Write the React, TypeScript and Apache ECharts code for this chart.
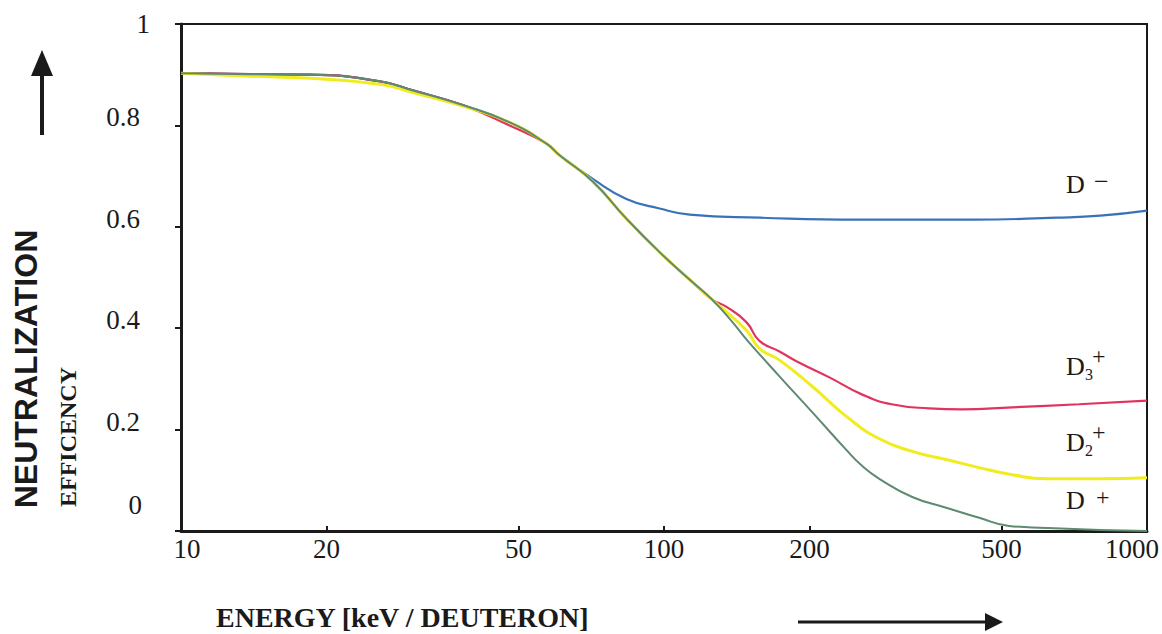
import React, { useEffect, useRef } from 'react';
import * as echarts from 'echarts';

// Energy in keV per deuteron (log axis), efficiency as a fraction.
const dMinusEnergy = [10, 13.9, 18.5, 25.8, 30.2, 38.3, 47.9, 57.1, 60.8, 71.1, 83.6, 97.9, 113, 158, 253, 434, 648, 800, 1000];
const dMinusEff = [0.903, 0.901, 0.9, 0.887, 0.869, 0.84, 0.806, 0.764, 0.741, 0.695, 0.655, 0.636, 0.624, 0.618, 0.614, 0.614, 0.618, 0.622, 0.632];

const d3Energy = [10, 13.9, 18.5, 25.8, 30.2, 38.3, 47.9, 57.1, 60.8, 71.1, 83.6, 97.9, 114.5, 125.6, 134.7, 148.1, 157.6, 173.4, 188, 220, 257.4, 296, 354, 414.5, 525.7, 723, 1000];
const d3Eff = [0.903, 0.901, 0.9, 0.887, 0.869, 0.84, 0.8, 0.764, 0.741, 0.69, 0.616, 0.55, 0.491, 0.457, 0.442, 0.412, 0.375, 0.354, 0.335, 0.303, 0.269, 0.25, 0.242, 0.24, 0.244, 0.25, 0.257];

const d2Energy = [10, 13.9, 18.5, 25.8, 30.2, 38.3, 47.9, 57.1, 60.8, 71.1, 83.6, 97.9, 114.5, 125.6, 148.1, 157.6, 173.4, 202.9, 238.5, 279.1, 326.6, 383.9, 449.3, 525.7, 618.1, 800, 1000];
const d2Eff = [0.903, 0.897, 0.893, 0.881, 0.865, 0.838, 0.806, 0.764, 0.741, 0.69, 0.616, 0.55, 0.491, 0.457, 0.396, 0.36, 0.337, 0.285, 0.226, 0.182, 0.157, 0.141, 0.125, 0.111, 0.103, 0.103, 0.105];

const d1Energy = [10, 13.9, 18.5, 25.8, 30.2, 38.3, 47.9, 57.1, 60.8, 71.1, 83.6, 97.9, 114.5, 125.6, 138.6, 148.1, 173.4, 202.9, 238.5, 257.4, 279.1, 326.6, 383.9, 449.3, 518, 618.1, 800, 1000];
const d1Eff = [0.903, 0.901, 0.9, 0.887, 0.869, 0.84, 0.806, 0.764, 0.741, 0.69, 0.616, 0.55, 0.491, 0.457, 0.412, 0.378, 0.305, 0.234, 0.16, 0.128, 0.103, 0.067, 0.046, 0.026, 0.01, 0.006, 0.002, 0];

const xLabelValues = [10, 20, 50, 100, 200, 500, 1000];
const xTickValues = [20, 50, 100, 200, 500];

const SERIF = '"Liberation Serif", "Times New Roman", serif';
const SANS = '"Liberation Sans", Arial, sans-serif';
const INK = '#1a1a1a';

const pairs = (xs: number[], ys: number[]) => xs.map((x, i) => [x, ys[i]]);

export default function App() {
  const ref = useRef<HTMLDivElement>(null);

  useEffect(() => {
    const chart = echarts.init(ref.current!, null, { renderer: 'svg' });

    const line = (name: string, data: number[][], color: string, width: number) => ({
      name,
      type: 'line',
      data,
      showSymbol: false,
      symbol: 'none',
      smooth: 0.5,
      lineStyle: { color, width },
      z: 3,
    });

    const txt = (text: string, x: number, y: number, size: number) => ({
      type: 'text',
      x,
      y,
      style: {
        text,
        font: `${size}px ${SERIF}`,
        fill: INK,
        align: 'left',
        verticalAlign: 'middle',
      },
    });

    const labelFont = { fontSize: 27, fontFamily: SERIF, color: INK };

    chart.setOption({
      animation: false,
      backgroundColor: '#ffffff',
      grid: {
        left: 181,
        right: 14,
        top: 24,
        bottom: 103,
        show: true,
        borderColor: INK,
        borderWidth: 2,
      },
      xAxis: {
        type: 'log',
        logBase: 10,
        min: 10,
        max: 1000,
        axisLine: { show: true, lineStyle: { color: INK, width: 3 } },
        axisTick: {
          show: true,
          inside: true,
          length: 5,
          customValues: xTickValues,
          lineStyle: { color: INK, width: 2 },
        },
        minorTick: { show: false },
        splitLine: { show: false },
        axisLabel: {
          customValues: xLabelValues,
          margin: 4,
          ...labelFont,
          formatter: (v: number) => {
            const s = String(Math.round(v));
            if (s === '10') return `{first|${s}}`;
            if (s === '1000') return `{last|${s}}`;
            return `{n|${s}}`;
          },
          rich: {
            n: { ...labelFont },
            first: { ...labelFont, padding: [0, 0, 0, 12] },
            last: { ...labelFont, padding: [0, 30, 0, 0] },
          },
        },
      },
      yAxis: {
        type: 'value',
        min: 0,
        max: 1,
        interval: 0.2,
        axisLine: { show: true, lineStyle: { color: INK, width: 3 } },
        axisTick: { show: true, inside: false, length: 6, lineStyle: { color: INK, width: 2 } },
        splitLine: { show: false },
        axisLabel: {
          margin: 31,
          ...labelFont,
          formatter: (v: number) => {
            const r = Math.round(v * 10) / 10;
            if (r === 1) return '{one|1}';
            if (r === 0) return '{zero|0}';
            return `{n|${r}}`;
          },
          rich: {
            n: { ...labelFont, padding: [0, 10, 16, 0] },
            one: { ...labelFont },
            zero: { ...labelFont, padding: [0, 8, 52, 0] },
          },
        },
      },
      series: [
        line('D−', pairs(dMinusEnergy, dMinusEff), '#3a72b8', 2.2),
        line('D3+', pairs(d3Energy, d3Eff), '#e0345e', 2.2),
        line('D2+', pairs(d2Energy, d2Eff), '#f1ec1e', 3),
        line('D+', pairs(d1Energy, d1Eff), '#5e8a72', 2),
      ],
      graphic: [
        // vertical axis titles
        {
          type: 'text',
          x: 26,
          y: 369,
          rotation: Math.PI / 2,
          style: {
            text: 'NEUTRALIZATION',
            font: `bold 32px ${SANS}`,
            fill: INK,
            align: 'center',
            verticalAlign: 'middle',
          },
        },
        {
          type: 'text',
          x: 68,
          y: 437,
          rotation: Math.PI / 2,
          style: {
            text: 'EFFICENCY',
            font: `bold 24px ${SERIF}`,
            fill: INK,
            align: 'center',
            verticalAlign: 'middle',
          },
        },
        // upward arrow
        {
          type: 'line',
          shape: { x1: 42, y1: 135, x2: 42, y2: 70 },
          style: { stroke: INK, lineWidth: 4 },
        },
        {
          type: 'polygon',
          shape: { points: [[42, 50], [31, 76], [53, 76]] },
          style: { fill: INK },
        },
        // horizontal axis title and arrow
        {
          type: 'text',
          x: 216,
          y: 617,
          style: {
            text: 'ENERGY [keV / DEUTERON]',
            font: `bold 28px ${SERIF}`,
            fill: INK,
            align: 'left',
            verticalAlign: 'middle',
          },
        },
        {
          type: 'line',
          shape: { x1: 798, y1: 622, x2: 988, y2: 622 },
          style: { stroke: INK, lineWidth: 3 },
        },
        {
          type: 'polygon',
          shape: { points: [[1003, 622], [985, 613], [985, 631]] },
          style: { fill: INK },
        },
        // curve labels
        txt('D', 1066, 184, 26),
        txt('−', 1094, 181, 26),
        txt('D', 1066, 366, 26),
        txt('3', 1085, 374, 16),
        txt('+', 1092, 356, 24),
        txt('D', 1066, 442, 26),
        txt('2', 1085, 450, 16),
        txt('+', 1092, 432, 24),
        txt('D', 1066, 500, 26),
        txt('+', 1096, 497, 24),
      ],
    });

    return () => chart.dispose();
  }, []);

  return (
    <div
      ref={ref}
      style={{ position: 'absolute', left: 0, top: 0, width: 1162, height: 634, background: '#ffffff' }}
    />
  );
}
